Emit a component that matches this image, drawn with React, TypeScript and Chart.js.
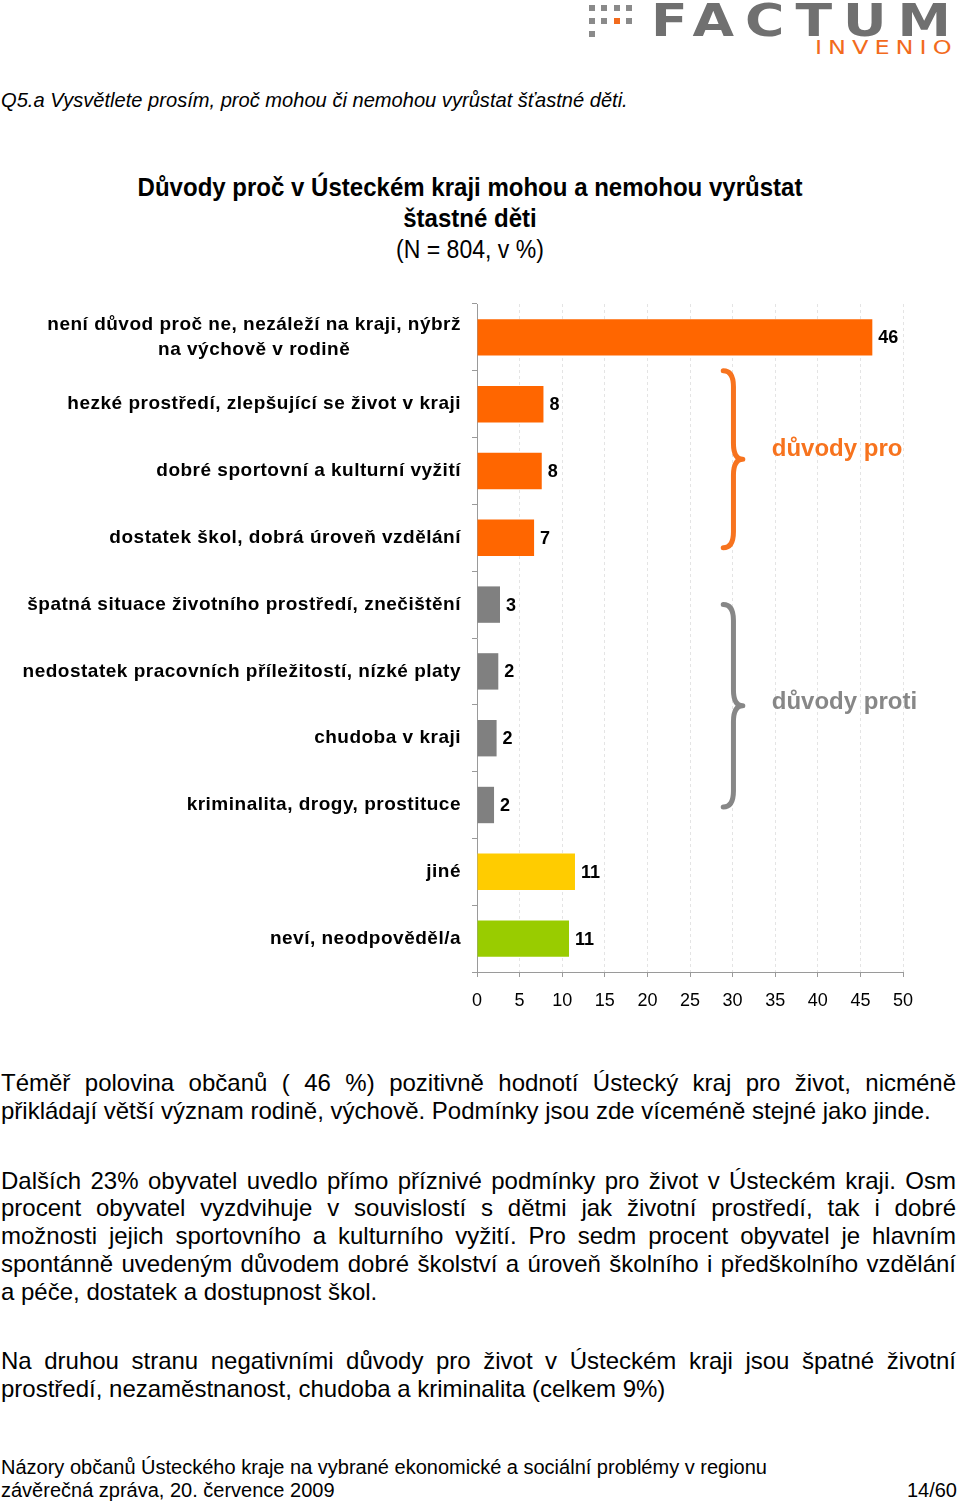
import React, { useEffect, useRef } from 'react';
import { Chart, registerables } from 'chart.js';

Chart.register(...registerables);

// ---------- data ----------
const categories: (string | string[])[] = [
  ['není důvod proč ne, nezáleží na kraji, nýbrž', 'na výchově v rodině'],
  'hezké prostředí, zlepšující se život v kraji',
  'dobré sportovní a kulturní vyžití',
  'dostatek škol, dobrá úroveň vzdělání',
  'špatná situace životního prostředí, znečištění',
  'nedostatek pracovních příležitostí, nízké platy',
  'chudoba v kraji',
  'kriminalita, drogy, prostituce',
  'jiné',
  'neví, neodpověděl/a',
];
const values = [46.4, 7.8, 7.6, 6.7, 2.7, 2.5, 2.3, 2.0, 11.5, 10.8];
const valueLabels = ['46', '8', '8', '7', '3', '2', '2', '2', '11', '11'];
const barColors = ['#FF6600', '#FF6600', '#FF6600', '#FF6600', '#808080', '#808080', '#808080', '#808080', '#FFCC00', '#99CC00'];
const groupLabels = ['důvody pro', 'důvody proti'];
const groupColors = ['#F7731E', '#878787'];

const FONT = "'Liberation Sans', Arial, sans-serif";

const overlayPlugin = {
  id: 'overlay',
  afterDraw(chart: any) {
    const ctx = chart.ctx;
    const xs = chart.scales.x;
    const ys = chart.scales.y;
    ctx.save();
    // category labels
    ctx.fillStyle = '#000';
    ctx.font = `bold 19px ${FONT}`;
    (ctx as any).letterSpacing = '0.5px';
    ctx.textBaseline = 'middle';
    const rightX = xs.left - 16;
    categories.forEach((c, i) => {
      const y = ys.getPixelForValue(i);
      if (Array.isArray(c)) {
        const lh = 25;
        const w = Math.max(...c.map((l) => ctx.measureText(l).width));
        const cx = rightX - w / 2;
        ctx.textAlign = 'center';
        c.forEach((l, j) => {
          ctx.fillText(l, cx, y + (j - (c.length - 1) / 2) * lh);
        });
      } else {
        ctx.textAlign = 'right';
        ctx.fillText(c, rightX, y);
      }
    });
    (ctx as any).letterSpacing = '0px';
    // value labels
    ctx.font = `bold 18px ${FONT}`;
    const meta = chart.getDatasetMeta(0);
    ctx.textAlign = 'left';
    meta.data.forEach((bar: any, i: number) => {
      ctx.fillText(valueLabels[i], bar.x + 6, bar.y + 1);
    });
    // braces
    const braces = [
      { top: 0.5, bottom: 3.15, label: 1.67 },
      { top: 4.0, bottom: 7.03, label: 5.46 },
    ];
    braces.forEach((b, k) => {
      const t = ys.getPixelForValue(b.top);
      const bt = ys.getPixelForValue(b.bottom);
      const mid = (t + bt) / 2;
      const x0 = xs.getPixelForValue(28.9);
      const xm = xs.getPixelForValue(30.1);
      const xt = xs.getPixelForValue(31.2);
      const r = 16;
      ctx.strokeStyle = groupColors[k];
      ctx.lineWidth = 5;
      ctx.lineCap = 'round';
      ctx.lineJoin = 'round';
      ctx.beginPath();
      ctx.moveTo(x0, t);
      ctx.quadraticCurveTo(xm, t, xm, t + r);
      ctx.lineTo(xm, mid - r);
      ctx.quadraticCurveTo(xm, mid, xt, mid);
      ctx.quadraticCurveTo(xm, mid, xm, mid + r);
      ctx.lineTo(xm, bt - r);
      ctx.quadraticCurveTo(xm, bt, x0, bt);
      ctx.stroke();
      ctx.fillStyle = groupColors[k];
      ctx.font = `bold 24px ${FONT}`;
      ctx.textAlign = 'left';
      ctx.fillText(groupLabels[k], xs.getPixelForValue(34.6), ys.getPixelForValue(b.label));
    });
    ctx.restore();
  },
};

function BarChart() {
  const ref = useRef<HTMLCanvasElement>(null);
  useEffect(() => {
    if (!ref.current) return;
    const chart = new Chart(ref.current, {
      type: 'bar',
      data: {
        labels: categories as any,
        datasets: [
          {
            data: values,
            backgroundColor: barColors,
            barPercentage: 0.545,
            categoryPercentage: 1,
          },
        ],
      },
      options: {
        indexAxis: 'y',
        animation: false,
        responsive: false,
        maintainAspectRatio: false,
        layout: { padding: { left: 0, right: 57, top: 14, bottom: 0 } },
        plugins: { legend: { display: false }, tooltip: { enabled: false } },
        scales: {
          x: {
            min: 0,
            max: 50,
            ticks: { stepSize: 5, color: '#000', font: { size: 18, family: FONT }, padding: 13, maxRotation: 0 },
            grid: { color: '#E4E4E4', tickColor: '#9A9A9A', tickLength: 5, lineWidth: 1 },
            border: { color: '#9A9A9A', dash: [3, 3], width: 1 },
            afterFit: (s: any) => { s.height = 58; },
          },
          y: {
            ticks: { display: false },
            grid: { offset: true, drawOnChartArea: false, drawTicks: true, tickLength: 5, tickColor: '#9A9A9A' },
            border: { color: '#9A9A9A', width: 1 },
            afterFit: (s: any) => { s.width = 477; },
          },
        },
      },
      plugins: [overlayPlugin],
    });
    return () => chart.destroy();
  }, []);
  return <canvas ref={ref} width={960} height={740} style={{ position: 'absolute', left: 0, top: 290, width: 960, height: 740 }} />;
}

type LineProps = { text: string; top: number; size: number; justify?: boolean; left?: number; width?: number; style?: React.CSSProperties };
function Line({ text, top, size, justify, left = 1, width = 955, style }: LineProps) {
  const lh = Math.round(size * 1.2);
  return (
    <div
      style={{
        position: 'absolute',
        left,
        width,
        top: top - lh / 2,
        height: lh,
        lineHeight: `${lh}px`,
        fontSize: size,
        fontFamily: FONT,
        whiteSpace: 'nowrap',
        color: '#000',
        textAlign: justify ? 'justify' : 'left',
        textAlignLast: justify ? 'justify' : 'left',
        ...style,
      } as React.CSSProperties}
    >
      {text}
    </div>
  );
}

const p1 = [
  'Téměř polovina občanů ( 46 %) pozitivně hodnotí Ústecký kraj pro život, nicméně',
  'přikládají větší význam rodině, výchově. Podmínky jsou zde víceméně stejné jako jinde.',
];
const p2 = [
  'Dalších 23% obyvatel uvedlo přímo příznivé podmínky pro život v Ústeckém kraji. Osm',
  'procent obyvatel vyzdvihuje v\u00a0souvislostí s dětmi jak životní prostředí, tak i dobré',
  'možnosti jejich sportovního a kulturního vyžití. Pro sedm procent obyvatel je hlavním',
  'spontánně uvedeným důvodem dobré školství a úroveň školního i předškolního vzdělání',
  'a péče, dostatek a dostupnost škol.',
];
const p3 = [
  'Na druhou stranu  negativními důvody pro život v\u00a0Ústeckém kraji jsou špatné životní',
  'prostředí, nezaměstnanost, chudoba a kriminalita (celkem 9%)',
];

function TitleLine({ text, top, size, bold, scale }: { text: string; top: number; size: number; bold?: boolean; scale: number }) {
  return (
    <div style={{ position: 'absolute', left: 0, width: 940, top: top - 16, height: 32, lineHeight: '32px', textAlign: 'center', fontFamily: FONT, fontSize: size, fontWeight: bold ? 'bold' : 'normal', color: '#000', transform: `scaleX(${scale})`, transformOrigin: '470px 50%', whiteSpace: 'nowrap' }}>
      {text}
    </div>
  );
}

function Logo() {
  const sq = (x: number, y: number, c = '#8A8A8A') => (
    <div key={`${x}-${y}`} style={{ position: 'absolute', left: x, top: y, width: 6, height: 6, background: c }} />
  );
  return (
    <>
      {sq(589, 5)}{sq(601, 5)}{sq(614, 5)}{sq(626, 5)}
      {sq(589, 18)}{sq(601, 18)}{sq(614, 18, '#F26B1D')}{sq(626, 18)}
      {sq(589, 31)}
      <div style={{ position: 'absolute', left: 651, top: -4, fontFamily: "'DejaVu Sans', sans-serif", fontSize: 44, lineHeight: '50px', color: '#707070', letterSpacing: 9, fontWeight: 'bold', whiteSpace: 'nowrap', transform: 'scaleX(1.22)', transformOrigin: '0 50%' }}>FACTUM</div>
      <div style={{ position: 'absolute', left: 815, top: 36, fontFamily: "'DejaVu Sans', sans-serif", fontSize: 20, lineHeight: '22px', color: '#F26B1D', letterSpacing: 5, whiteSpace: 'nowrap', transform: 'scaleX(1.2)', transformOrigin: '0 50%' }}>INVENIO</div>
    </>
  );
}

export default function App() {
  return (
    <div style={{ position: 'absolute', left: 0, top: 0, width: 960, height: 1504, background: '#fff', overflow: 'hidden' }}>
      <Logo />
      <Line text="Q5.a Vysvětlete prosím, proč mohou či nemohou vyrůstat šťastné děti." top={99} size={21} left={1} style={{ fontStyle: 'italic', transform: 'scaleX(0.957)', transformOrigin: '0 50%' }} />
      <TitleLine text="Důvody proč v Ústeckém kraji mohou a nemohou vyrůstat" top={187} size={26} bold scale={0.924} />
      <TitleLine text="štastné děti" top={218} size={26} bold scale={0.924} />
      <TitleLine text="(N = 804, v %)" top={249} size={26} scale={0.886} />
      <BarChart />
      {p1.map((t, i) => <Line key={'a' + i} text={t} top={1082 + i * 28} size={24} justify={i < p1.length - 1} />)}
      {p2.map((t, i) => <Line key={'b' + i} text={t} top={1180 + i * 27.8} size={24} justify={i < p2.length - 1} />)}
      {p3.map((t, i) => <Line key={'c' + i} text={t} top={1360 + i * 28} size={24} justify={i < p3.length - 1} />)}
      <Line text="Názory občanů Ústeckého kraje na vybrané ekonomické a sociální problémy v regionu" top={1467} size={20} />
      <Line text="závěrečná zpráva, 20. července 2009" top={1490} size={20} />
      <Line text="14/60" top={1490} size={20} left={800} width={157} style={{ textAlign: 'right', textAlignLast: 'right' }} />
    </div>
  );
}
